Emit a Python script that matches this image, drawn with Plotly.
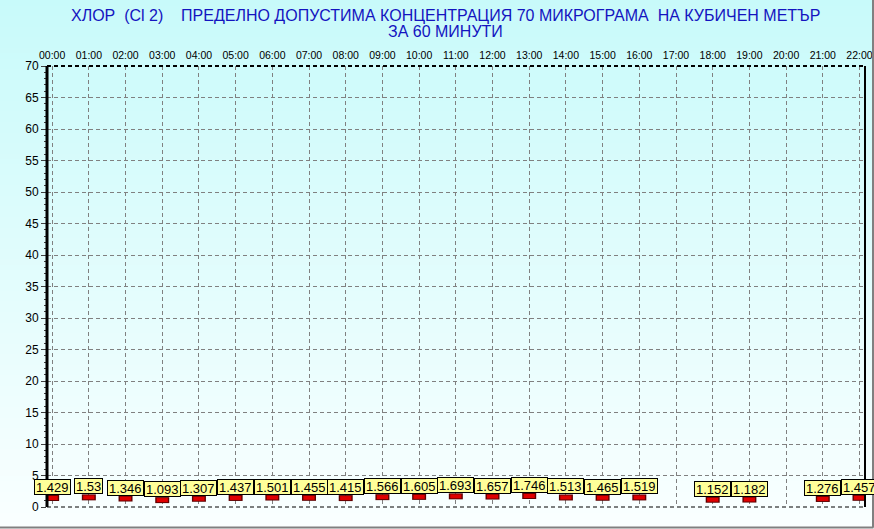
import base64, struct, zlib
import plotly.graph_objects as go

hours = list(range(23))
tick_labels = [f"{h:02d}:00" for h in hours]
values = [1.429, 1.53, 1.346, 1.093, 1.307, 1.437, 1.501, 1.455, 1.415, 1.566,
          1.605, 1.693, 1.657, 1.746, 1.513, 1.465, 1.519, None, 1.152, 1.182,
          None, 1.276, 1.457]
y_ticks = list(range(0, 75, 5))
title_line1 = "ХЛОР\u00a0\u00a0(Cl 2)\u00a0\u00a0\u00a0\u00a0ПРЕДЕЛНО ДОПУСТИМА КОНЦЕНТРАЦИЯ 70 МИКРОГРАМА\u00a0\u00a0НА КУБИЧЕН МЕТЪР"
title_line2 = "ЗА 60 МИНУТИ"

W, H = 874, 529
L, R, T, B = 47, 865, 66, 507
pw, ph = R - L, B - T


def gradient_png(h, top, bottom):
    raw = b""
    for i in range(h):
        t = i / (h - 1)
        c = bytes(int(round(top[k] + (bottom[k] - top[k]) * t)) for k in range(3))
        raw += b"\x00" + c
    def chunk(tag, data):
        return struct.pack(">I", len(data)) + tag + data + struct.pack(">I", zlib.crc32(tag + data) & 0xffffffff)
    png = b"\x89PNG\r\n\x1a\n" + chunk(b"IHDR", struct.pack(">IIBBBBB", 1, h, 8, 2, 0, 0, 0))
    png += chunk(b"IDAT", zlib.compress(raw)) + chunk(b"IEND", b"")
    return "data:image/png;base64," + base64.b64encode(png).decode()


def px(xp):
    return (xp - L) / pw


def py(yp):
    return (B - yp) / ph


fig = go.Figure()

xs = [h for h, v in zip(hours, values) if v is not None]
ys = [v for v in values if v is not None]

fig.add_trace(go.Scatter(x=xs, y=ys, mode="markers",
                         marker=dict(symbol="line-ew", size=10, color="#600000",
                                     line=dict(width=6, color="#600000")),
                         hoverinfo="skip", showlegend=False))
fig.add_trace(go.Scatter(x=xs, y=ys, mode="markers",
                         marker=dict(symbol="line-ew", size=8, color="#e00000",
                                     line=dict(width=4, color="#e00000")),
                         showlegend=False))

annotations = []
for h, v in zip(xs, ys):
    annotations.append(dict(x=h, y=v, xref="x", yref="y", text=f"{v:g}",
                            showarrow=False, yshift=11, bgcolor="#ffff99",
                            bordercolor="black", borderwidth=1, borderpad=1, height=12,
                            font=dict(family="Liberation Sans, Arial", size=13, color="black")))
annotations.append(dict(x=px(445), y=py(15), xref="paper", yref="paper", text=title_line1,
                        xanchor="center", yanchor="middle", showarrow=False,
                        font=dict(family="Liberation Sans, Arial", size=16, color="#1414c0")))
annotations.append(dict(x=px(445), y=py(32), xref="paper", yref="paper", text=title_line2,
                        xanchor="center", yanchor="middle", showarrow=False,
                        font=dict(family="Liberation Sans, Arial", size=16, color="#1414c0")))

shapes = [
    dict(type="line", xref="paper", yref="paper", x0=0, x1=1, y0=1, y1=1,
         line=dict(color="black", width=2, dash="4px,3px")),
    dict(type="line", xref="paper", yref="paper", x0=0, x1=1, y0=0, y1=0,
         line=dict(color="black", width=1, dash="4px,3px")),
    dict(type="line", xref="paper", yref="paper", x0=1, x1=1, y0=0, y1=1,
         line=dict(color="black", width=2)),
    dict(type="line", xref="paper", yref="paper", x0=0, x1=0, y0=0, y1=1,
         line=dict(color="black", width=3)),
    dict(type="line", xref="paper", yref="paper", x0=px(0), x1=px(873.5), y0=py(527.5), y1=py(527.5),
         line=dict(color="#808080", width=2)),
    dict(type="line", xref="paper", yref="paper", x0=px(873), x1=px(873), y0=py(0), y1=py(527.5),
         line=dict(color="#808080", width=2)),
]

fig.update_layout(
    width=W, height=H,
    margin=dict(l=L, r=W - R, t=T, b=H - B, autoexpand=False),
    paper_bgcolor="white", plot_bgcolor="rgba(0,0,0,0)",
    font=dict(family="Liberation Sans, Arial", size=11, color="black"),
    annotations=annotations, shapes=shapes,
    images=[dict(source=gradient_png(H, (200, 250, 250), (250, 255, 255)),
                 xref="paper", yref="paper", x=px(0), y=py(0), sizex=W / pw, sizey=H / ph,
                 xanchor="left", yanchor="top", sizing="stretch", layer="below")],
    xaxis=dict(range=[-0.14, 22.15], side="top", tickvals=hours, ticktext=tick_labels,
               showgrid=True, gridcolor="#808080", griddash="4px,3px", gridwidth=1,
               zeroline=False, showline=False, ticks="", automargin=False,
               tickfont=dict(size=10.5), ticklabelstandoff=4),
    yaxis=dict(range=[0, 70], tickvals=y_ticks, showgrid=True, gridcolor="#808080",
               griddash="4px,3px", gridwidth=1, zeroline=False, showline=False,
               ticks="outside", ticklen=5, tickcolor="#404040", automargin=False,
               minor=dict(dtick=1, ticks="outside", ticklen=2, tickcolor="#404040", showgrid=False),
               tickfont=dict(size=12)),
)

fig.write_html("out.html", config={"displayModeBar": False},
               post_script="document.body.style.margin='0px';document.body.style.overflow='hidden';")
